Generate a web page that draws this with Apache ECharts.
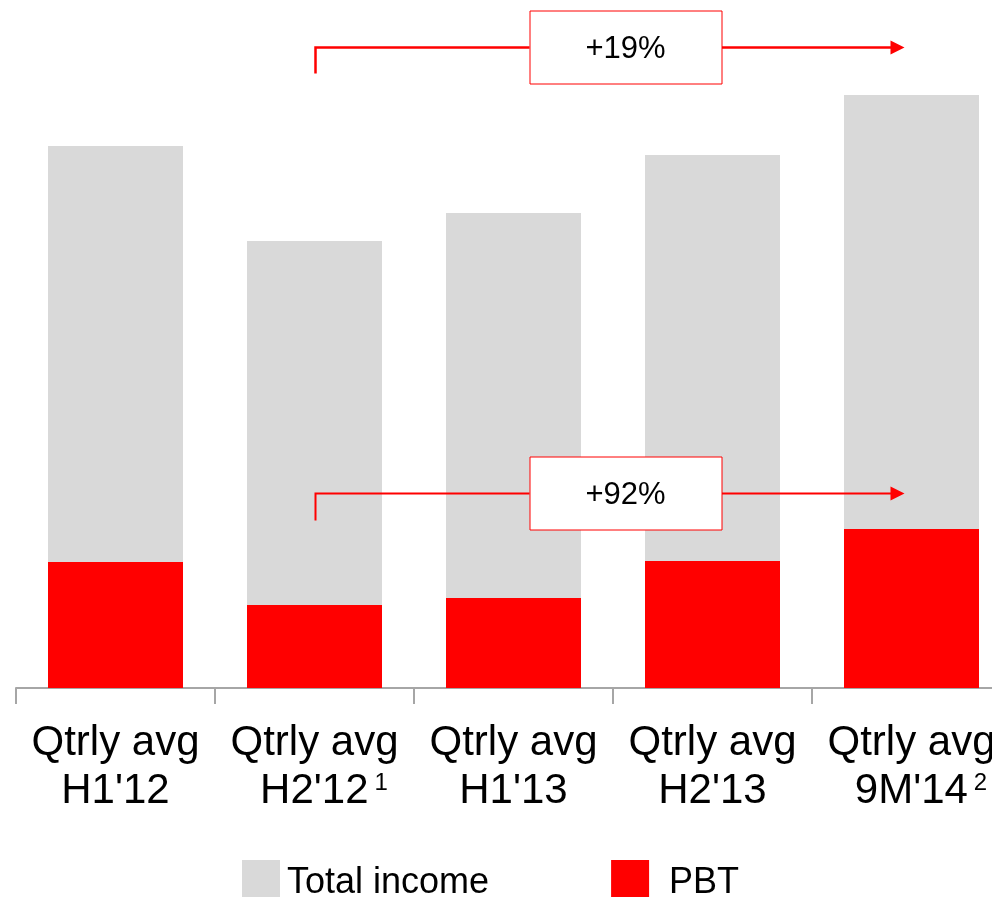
<!DOCTYPE html>
<html>
<head>
<meta charset="utf-8">
<script src="https://cdn.jsdelivr.net/npm/echarts@6/dist/echarts.min.js"></script>
<style>
html,body{margin:0;padding:0;background:#fff;overflow:hidden;width:992px;height:897px;}
#chart{width:1020px;height:897px;}
</style>
</head>
<body>
<div id="chart"></div>
<script>
// ---- data ----
const categories = ["H1'12", "H2'12", "H1'13", "H2'13", "9M'14"];
const labelPrefix = "Qtrly avg";
const footnotes = ["", "1", "", "", "2"];
const totalIncome = [542, 447, 475, 533, 593];
const pbt = [126, 83, 90, 127, 159];
const growthLabels = ["+19%", "+92%"];
const seriesNames = ["Total income", "PBT"];

const FONT = "'Liberation Sans', Arial, sans-serif";
const chart = echarts.init(document.getElementById('chart'));

chart.setOption({
  animation: false,
  textStyle: { fontFamily: FONT },
  grid: { left: 16, top: 0, width: 995, height: 688 },
  legend: {
    left: 242, top: 860, padding: 0,
    itemWidth: 38, itemHeight: 46, itemGap: 122,
    icon: 'rect',
    textStyle: { fontSize: 36, color: '#000', fontFamily: FONT, padding: [0, 0, 0, 2] },
    data: [
      { name: seriesNames[0] },
      { name: seriesNames[1], textStyle: { padding: [0, 0, 0, 15] } }
    ]
  },
  xAxis: {
    type: 'category',
    data: categories,
    axisLine: { lineStyle: { color: '#a6a6a6', width: 2 } },
    axisTick: { show: true, length: 16, lineStyle: { color: '#a6a6a6', width: 2 } },
    axisLabel: {
      interval: 0,
      margin: 31,
      color: '#000',
      formatter: function (v, i) {
        const fn = footnotes[i];
        let l2 = fn ? '{p|}{a|' + v + '}{s|' + fn + '}' : '{a|' + v + '}';
        return '{a|' + labelPrefix + '}\n' + l2;
      },
      rich: {
        a: { fontSize: 42, lineHeight: 48, color: '#000', fontFamily: FONT },
        s: { fontSize: 24, lineHeight: 48, color: '#000', fontFamily: FONT, verticalAlign: 'top', padding: [4, 0, 0, 6] },
        p: { width: 19, fontSize: 24, lineHeight: 48 }
      }
    }
  },
  yAxis: { type: 'value', min: 0, max: 688, show: false, splitLine: { show: false } },
  series: [
    { name: seriesNames[0], type: 'bar', data: totalIncome, barWidth: 135, barGap: '-100%',
      itemStyle: { color: '#d9d9d9' } },
    { name: seriesNames[1], type: 'bar', data: pbt, barWidth: 135,
      itemStyle: { color: '#ff0000' } }
  ]
});

// growth annotations: from H2'12 to 9M'14
const levels = [641, 195];      // annotation line level in axis units
const stub = [26, 27];
const widths = [2.5, 2];
const graphics = [];
const xa = chart.convertToPixel({ xAxisIndex: 0 }, categories[1]);
const xb = chart.convertToPixel({ xAxisIndex: 0 }, categories[4]) - 7;
growthLabels.forEach(function (g, k) {
  const y = Math.round(chart.convertToPixel({ yAxisIndex: 0 }, levels[k])) + 0.5;
  const bx = (xa + xb) / 2 + 16;
  const bw = 192, bh = 73;
  const lw = widths[k];
  const Z = 100;
  graphics.push({ type: 'polyline', z: Z, shape: { points: [[xa + 1, y + stub[k]], [xa + 1, y], [bx - bw / 2, y]] },
    style: { stroke: '#ff0000', lineWidth: lw, fill: null } });
  graphics.push({ type: 'line', z: Z, shape: { x1: bx + bw / 2, y1: y, x2: xb - 12, y2: y },
    style: { stroke: '#ff0000', lineWidth: lw } });
  graphics.push({ type: 'polygon', z: Z, shape: { points: [[xb - 14, y - 7], [xb, y], [xb - 14, y + 7]] },
    style: { fill: '#ff0000' } });
  graphics.push({ type: 'rect', z: Z, shape: { x: bx - bw / 2 + 0.5, y: y - bh / 2, width: bw, height: bh },
    style: { fill: '#fff', stroke: '#ff0000', lineWidth: 1 } });
  graphics.push({ type: 'text', z: Z + 1, x: bx, y: y + 2,
    style: { text: g, fill: '#000', font: '31px ' + FONT, textAlign: 'center', textVerticalAlign: 'middle' } });
});
chart.setOption({ graphic: graphics });
</script>
</body>
</html>
